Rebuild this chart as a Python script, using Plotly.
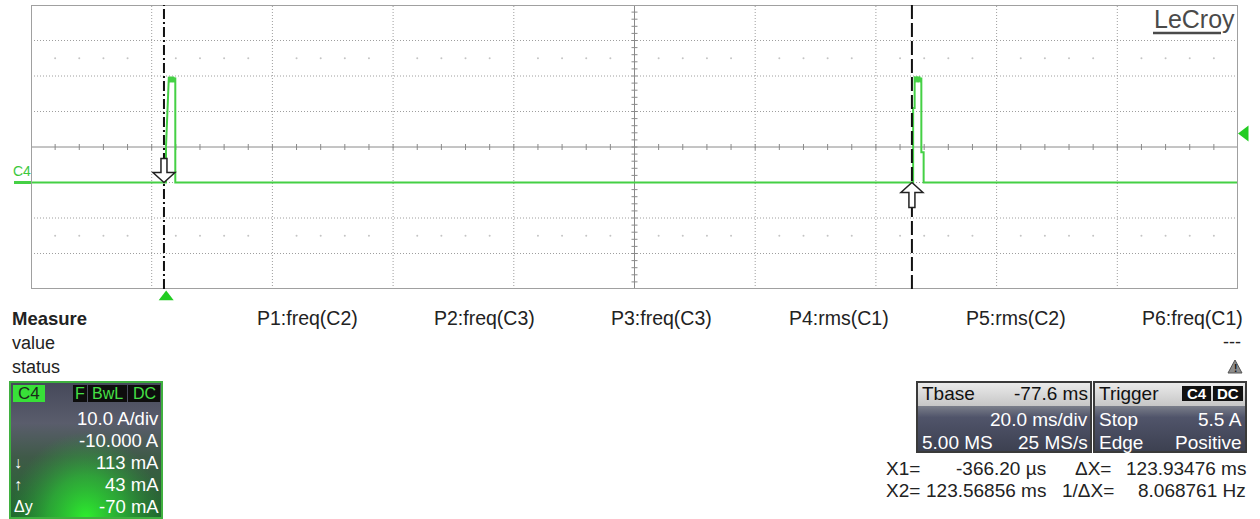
import plotly.graph_objects as go

W, H = 1260, 519

# ---------------- data ----------------
screen_left_ms = -22.4        # time at left edge of the grid (Tbase -77.6 ms, 20 ms/div)
ms_per_div = 20.0
n_xdiv = 10
amps_per_div = 10.0
center_amps = 10.0            # offset -10.000 A -> 0 A sits one division below centre
n_ydiv = 8

time_ms = [-22.4, -0.03, -0.03, 0.40, 0.44, 0.62, 0.80, 0.98, 1.16, 1.34, 1.51, 1.51,
           123.77, 123.77, 124.02, 124.02, 124.20, 124.40, 124.60, 124.80, 125.00, 125.13, 125.13,
           125.51, 125.51, 177.6]
current_a = [0.0, 0.0, 10.1, 26.2, 29.8, 28.2, 29.8, 28.2, 29.8, 28.2, 29.6, 0.0,
             0.0, 21.0, 21.0, 29.9, 28.2, 29.9, 28.2, 29.9, 28.2, 29.6, 8.5,
             8.5, 0.0, 0.0]

cursor_x1_ms = -0.36620
cursor_x2_ms = 123.56856
trigger_time_ms = 0.0
trigger_marker_a = 13.8

measure_headers = ["P1:freq(C2)", "P2:freq(C3)", "P3:freq(C3)", "P4:rms(C1)", "P5:rms(C2)", "P6:freq(C1)"]
measure_labels = ["Measure", "value", "status"]
p6_value = "---"
p6_status = "!"
c4_label = "C4"
c4_badges = ["F", "BwL", "DC"]
c4_symbols = ["", "", "↓", "↑", "Δy"]
c4_values = ["10.0 A/div", "-10.000 A", "113 mA", "43 mA", "-70 mA"]
tbase_rows = [("Tbase", "-77.6 ms"), ("", "20.0 ms/div"), ("5.00 MS", "25 MS/s")]
trigger_rows = [("Trigger", ""), ("Stop", "5.5 A"), ("Edge", "Positive")]
trigger_badges = ["C4", "DC"]
cursor_rows = [("X1=", "-366.20 µs", "ΔX=", "123.93476 ms"),
               ("X2=", "123.56856 ms", "1/ΔX=", "8.068761 Hz")]
brand = "LeCroy"

# ---------------- layout constants ----------------
FONT = "Liberation Sans, Arial, sans-serif"
PLOT_L, PLOT_R, PLOT_T, PLOT_B = 31, 1238, 5, 289
TRACE_GREEN = "#45d045"
GRID = "#9e9e9e"

x_right = screen_left_ms + n_xdiv * ms_per_div
x_center = screen_left_ms + n_xdiv / 2 * ms_per_div
y_bot = center_amps - n_ydiv / 2 * amps_per_div
y_top = center_amps + n_ydiv / 2 * amps_per_div
px_per_amp = (PLOT_B - PLOT_T) / (y_top - y_bot)
px_per_ms = (PLOT_R - PLOT_L) / (x_right - screen_left_ms)


def to_px_x(t):
    return PLOT_L + (t - screen_left_ms) * px_per_ms


def to_px_y(a):
    return PLOT_B - (a - y_bot) * px_per_amp


fig = go.Figure()

# ---------------- graticule ----------------
shapes = []
for i in range(1, n_xdiv):
    if i == n_xdiv // 2:
        continue
    xv = screen_left_ms + i * ms_per_div
    shapes.append(dict(type="line", xref="x", yref="y", x0=xv, x1=xv, y0=y_bot, y1=y_top,
                       line=dict(color=GRID, width=1, dash="1px,2px"), layer="below"))
for j in range(1, n_ydiv):
    if j == n_ydiv // 2:
        continue
    yv = y_bot + j * amps_per_div
    shapes.append(dict(type="line", xref="x", yref="y", x0=screen_left_ms, x1=x_right, y0=yv, y1=yv,
                       line=dict(color=GRID, width=1, dash="1px,2px"), layer="below"))
shapes.append(dict(type="line", xref="x", yref="y", x0=x_center, x1=x_center, y0=y_bot, y1=y_top,
                   line=dict(color="#8a8a8a", width=1), layer="below"))
shapes.append(dict(type="line", xref="x", yref="y", x0=screen_left_ms, x1=x_right, y0=center_amps, y1=center_amps,
                   line=dict(color="#8a8a8a", width=1), layer="below"))
shapes.append(dict(type="rect", xref="x", yref="y", x0=screen_left_ms, x1=x_right, y0=y_bot, y1=y_top,
                   line=dict(color="#a0a0a0", width=2), layer="above"))

# ticks on the centre cross (1/5 division)
tx, ty = [], []
th_a = 3 / px_per_amp
th_ms = 3 / px_per_ms
for k in range(1, n_xdiv * 5):
    xv = screen_left_ms + k * ms_per_div / 5
    tx += [xv, xv, None]
    ty += [center_amps - th_a, center_amps + th_a, None]
for k in range(1, n_ydiv * 5):
    yv = y_bot + k * amps_per_div / 5
    tx += [x_center - th_ms, x_center + th_ms, None]
    ty += [yv, yv, None]
fig.add_trace(go.Scatter(x=tx, y=ty, mode="lines", line=dict(color="#8a8a8a", width=1),
                         hoverinfo="skip", showlegend=False))

# faint sub-division dots
dx, dy = [], []
for row in (y_top - 1.5 * amps_per_div, y_bot + 1.5 * amps_per_div):
    for k in range(1, n_xdiv * 5):
        if k % 5 == 0:
            continue
        dx.append(screen_left_ms + k * ms_per_div / 5)
        dy.append(row)
fig.add_trace(go.Scatter(x=dx, y=dy, mode="markers", marker=dict(color="#c4c4c4", size=2),
                         hoverinfo="skip", showlegend=False))

# ---------------- waveform ----------------
fig.add_trace(go.Scatter(x=time_ms, y=current_a, mode="lines",
                         line=dict(color=TRACE_GREEN, width=2), hoverinfo="skip", showlegend=False))

# cursors
shapes.append(dict(type="line", xref="x", yref="y", x0=cursor_x1_ms, x1=cursor_x1_ms, y0=y_bot, y1=y_top,
                   line=dict(color="#111", width=2, dash="10px,3px,2px,3px"), layer="above"))
shapes.append(dict(type="line", xref="x", yref="y", x0=cursor_x2_ms, x1=cursor_x2_ms, y0=y_bot, y1=y_top,
                   line=dict(color="#111", width=2, dash="14px,4px"), layer="above"))
shapes.append(dict(type="path", xref="x", yref="y", xsizemode="pixel", ysizemode="pixel",
                   xanchor=cursor_x1_ms, yanchor=0.0,
                   path="M0,0 L-11,10 L-3,10 L-3,24 L3,24 L3,10 L11,10 Z",
                   fillcolor="white", line=dict(color="#222", width=1.5), layer="above"))
shapes.append(dict(type="path", xref="x", yref="y", xsizemode="pixel", ysizemode="pixel",
                   xanchor=cursor_x2_ms, yanchor=0.0,
                   path="M0,0 L-11,-10 L-3,-10 L-3,-25 L3,-25 L3,-10 L11,-10 Z",
                   fillcolor="white", line=dict(color="#222", width=1.5), layer="above"))

# trigger markers (drawn in page pixel space, positioned from the data scale)
fig.add_trace(go.Scatter(x=[to_px_x(trigger_time_ms)], y=[PLOT_B + 8], xaxis="x2", yaxis="y2", mode="markers",
                         marker=dict(symbol="triangle-up", size=13, color="#22cc22"),
                         hoverinfo="skip", showlegend=False))
fig.add_trace(go.Scatter(x=[PLOT_R + 7], y=[to_px_y(trigger_marker_a)], xaxis="x2", yaxis="y2", mode="markers",
                         marker=dict(symbol="triangle-left", size=14, color="#22cc22"),
                         hoverinfo="skip", showlegend=False))

# channel marker at 0 A
shapes.append(dict(type="line", xref="x2", yref="y", x0=14, x1=31, y0=0, y1=0,
                   line=dict(color=TRACE_GREEN, width=3), layer="above"))

annotations = []


def txt(x, y, s, anchor="left", size=18, color="#222", bold=False, xref="x2", yref="y2", yshift=0):
    annotations.append(dict(x=x, y=y, xref=xref, yref=yref, text=("<b>%s</b>" % s) if bold else s,
                            xanchor=anchor, yanchor="middle", showarrow=False, yshift=yshift,
                            font=dict(family=FONT, size=size, color=color)))


txt(11, 0, c4_label, size=14, color="#3cc83c", yref="y", yshift=12)

# brand
txt(1194, 19, brand, anchor="center", size=25, color="#4a4a4a")
shapes.append(dict(type="line", xref="x2", yref="y2", x0=1153, x1=1221, y0=33, y1=33,
                   line=dict(color="#4a4a4a", width=2.5), layer="above"))

# ---------------- measure table ----------------
for k, lab in enumerate(measure_labels):
    txt(10, 318 + 24.5 * k, lab, bold=(k == 0), size=(18.5 if k == 0 else 18))
for k, h in enumerate(measure_headers):
    txt(1245 - 177 * (5 - k), 318, h, anchor="right", size=19.5)
txt(1243, 342, p6_value, anchor="right")
# warning sign
shapes.append(dict(type="path", xref="x2", yref="y2",
                   path="M1235,360 L1242,373 L1228,373 Z",
                   fillcolor="#8c8c8c", line=dict(color="#555", width=1), layer="above"))
txt(1235, 368, p6_status, anchor="center", size=10, color="#111", bold=True)

# ---------------- gradient panels (pixel space) ----------------


def rect_poly(x0, y0, x1, y1):
    return [x0, x1, x1, x0, x0], [y0, y0, y1, y1, y0]


def grad_rect(x0, y0, x1, y1, cs, kind="vertical", start=None, stop=None):
    xs, ys = rect_poly(x0, y0, x1, y1)
    fg = dict(type=kind, colorscale=cs)
    if start is not None:
        fg["start"] = start
        fg["stop"] = stop
    fig.add_trace(go.Scatter(x=xs, y=ys, xaxis="x2", yaxis="y2", mode="lines", fill="toself",
                             line=dict(width=0, color="rgba(0,0,0,0)"), fillgradient=fg,
                             hoverinfo="skip", showlegend=False))


# C4 channel box
grad_rect(10, 382, 162, 519, [[0, "#45485a"], [0.3, "#5a5d6c"], [0.55, "#3f5a48"], [1, "#1f6a2c"]],
          start=382, stop=519)
grad_rect(10, 432, 162, 606, [[0, "rgba(45,240,45,1)"], [0.5, "rgba(45,190,55,0.7)"],
                              [1, "rgba(45,150,60,0)"]], kind="radial")
shapes.append(dict(type="rect", xref="x2", yref="y2", x0=10, x1=162, y0=382, y1=518,
                   line=dict(color="#3fb03f", width=2), layer="above"))
shapes.append(dict(type="rect", xref="x2", yref="y2", x0=13, x1=45, y0=385, y1=402,
                   fillcolor="#38e038", line=dict(width=0), layer="above"))
txt(29, 393.5, c4_label, anchor="center", size=17, color="#1a2a1a")
badge_x = [(73, 87), (88, 127), (128, 160)]
for (bx0, bx1), b in zip(badge_x, c4_badges):
    shapes.append(dict(type="rect", xref="x2", yref="y2", x0=bx0, x1=bx1, y0=385, y1=402,
                       fillcolor="#0d0d0d", line=dict(width=0), layer="above"))
    txt((bx0 + bx1) / 2, 393.5, b, anchor="center", size=16, color="#46e046")
c4_row_y = [418, 440, 462, 484, 506]
for yv, sym, val in zip(c4_row_y, c4_symbols, c4_values):
    txt(161, yv, val, anchor="right", color="white", size=18.5)
    if sym:
        txt(12, yv, sym, color="white", size=16)

# Tbase / Trigger boxes
for (bx0, bx1) in [(917, 1091), (1094, 1246)]:
    grad_rect(bx0, 382, bx1, 406, [[0, "#ececec"], [1, "#c6c6c6"]], start=382, stop=406)
    grad_rect(bx0, 406, bx1, 452, [[0, "#7a7e8a"], [0.25, "#50546a"], [1, "#3c4050"]], start=406, stop=452)
    shapes.append(dict(type="rect", xref="x2", yref="y2", x0=bx0, x1=bx1, y0=382, y1=452,
                       line=dict(color="#3a3a3a", width=2), layer="above"))

row_y = [393.5, 419, 442]
for k, (l, r) in enumerate(tbase_rows):
    col = "#111" if k == 0 else "white"
    if l:
        txt(920, row_y[k], l, color=col, size=19)
    if r:
        txt(1090, row_y[k], r, anchor="right", color=col, size=19)
for k, (l, r) in enumerate(trigger_rows):
    col = "#111" if k == 0 else "white"
    if l:
        txt(1097, row_y[k], l, color=col, size=19)
    if r:
        txt(1244, row_y[k], r, anchor="right", color=col, size=19)
for (bx0, bx1), b in zip([(1182, 1211), (1213, 1243)], trigger_badges):
    shapes.append(dict(type="rect", xref="x2", yref="y2", x0=bx0, x1=bx1, y0=386, y1=401,
                       fillcolor="#111", line=dict(width=0), layer="above"))
    txt((bx0 + bx1) / 2, 393.5, b, anchor="center", size=15, color="white", bold=True)

# cursor readouts
readout_cols = [(884, 1048, 1073, 1248), (884, 1048, 1060, 1248)]
for k, (a, b, c, d) in enumerate(cursor_rows):
    yv = 468 + 22 * k
    xa, xb, xc, xd = readout_cols[k]
    txt(xa, yv, a, size=19)
    txt(xb, yv, b, anchor="right", size=19)
    txt(xc, yv, c, size=19)
    txt(xd, yv, d, anchor="right", size=19)

fig.update_layout(
    width=W, height=H, margin=dict(l=0, r=0, t=0, b=0),
    paper_bgcolor="white", plot_bgcolor="rgba(0,0,0,0)",
    showlegend=False, shapes=shapes, annotations=annotations,
    xaxis=dict(domain=[PLOT_L / W, PLOT_R / W], range=[screen_left_ms, x_right], visible=False, fixedrange=True),
    yaxis=dict(domain=[1 - PLOT_B / H, 1 - PLOT_T / H], range=[y_bot, y_top], visible=False, fixedrange=True),
    xaxis2=dict(domain=[0, 1], range=[0, W], visible=False, anchor="y2", fixedrange=True),
    yaxis2=dict(domain=[0, 1], range=[H, 0], visible=False, anchor="x2", fixedrange=True),
)

fig.write_html("out.html", config={"displayModeBar": False},
               post_script="document.body.style.margin='0';document.body.style.overflow='hidden';")
